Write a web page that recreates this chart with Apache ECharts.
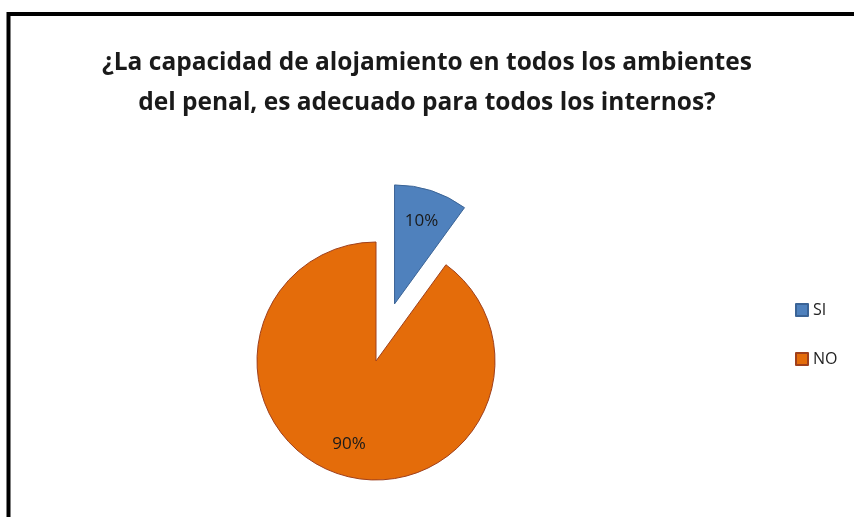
<!DOCTYPE html>
<html>
<head>
<meta charset="utf-8">
<script src="https://cdn.jsdelivr.net/npm/echarts@6/dist/echarts.min.js"></script>
<style>
    html, body { margin: 0; padding: 0; background: #fff; }
    #chart { width: 854px; height: 517px; }
</style>
</head>
<body>
<div id="chart"></div>
<script>
    // datos de la encuesta
    var categories = ['SI', 'NO'];
    var values = [10, 90];
    var colors = ['#4F81BD', '#E46C0A'];
    var borderColors = ['#3B6496', '#A0401C'];

    var titleText = '¿La capacidad de alojamiento en todos los ambientes\ndel penal, es adecuado para todos los internos?';

    var myChart = echarts.init(document.getElementById('chart'));

    var pieCenter = [376, 361];
    var pieRadius = 119;

    // porciones
    var sliceData = categories.map(function (name, i) {
        return {
            name: name,
            value: values[i],
            selected: name === 'SI',
            itemStyle: { color: colors[i], borderColor: borderColors[i], borderWidth: 1 }
        };
    });

    // serie invisible solo para colocar las etiquetas mas afuera
    var labelData = categories.map(function (name, i) {
        return {
            name: name,
            value: values[i],
            selected: name === 'SI'
        };
    });

    var option = {
        backgroundColor: '#fff',
        animation: false,
        title: {
            text: titleText,
            left: 'center',
            top: 38,
            textStyle: {
                fontFamily: 'Open Sans',
                fontWeight: 'bold',
                fontSize: 24.5,
                lineHeight: 40,
                color: '#1a1a1a'
            }
        },
        legend: {
            orient: 'vertical',
            left: 790,
            top: 297,
            icon: 'rect',
            itemWidth: 12,
            itemHeight: 12,
            itemGap: 33,
            data: categories,
            textStyle: {
                fontFamily: 'Open Sans',
                fontSize: 16,
                color: '#222'
            }
        },
        graphic: [{
            type: 'rect',
            shape: { x: 8.5, y: 14, width: 900, height: 600 },
            style: { fill: 'none', stroke: '#000', lineWidth: 4 },
            silent: true
        }],
        series: [{
            name: 'capacidad',
            type: 'pie',
            center: pieCenter,
            radius: pieRadius,
            startAngle: 90,
            clockwise: true,
            selectedMode: 'single',
            selectedOffset: 60,
            label: { show: false },
            labelLine: { show: false },
            emphasis: { scale: false },
            data: sliceData
        }, {
            name: 'etiquetas',
            type: 'pie',
            z: 5,
            center: pieCenter,
            radius: [50, pieRadius],
            startAngle: 90,
            clockwise: true,
            selectedMode: 'single',
            selectedOffset: 60,
            avoidLabelOverlap: false,
            labelLayout: { hideOverlap: false },
            silent: true,
            legendHoverLink: false,
            itemStyle: { color: 'rgba(0,0,0,0)', borderWidth: 0 },
            select: { itemStyle: { color: 'rgba(0,0,0,0)', borderWidth: 0 } },
            label: {
                show: true,
                position: 'inside',
                formatter: '{d}%',
                fontFamily: 'Open Sans',
                fontSize: 17,
                color: '#1a1a1a'
            },
            labelLine: { show: false },
            emphasis: { disabled: true },
            data: labelData
        }]
    };

    myChart.setOption(option);
</script>
</body>
</html>
